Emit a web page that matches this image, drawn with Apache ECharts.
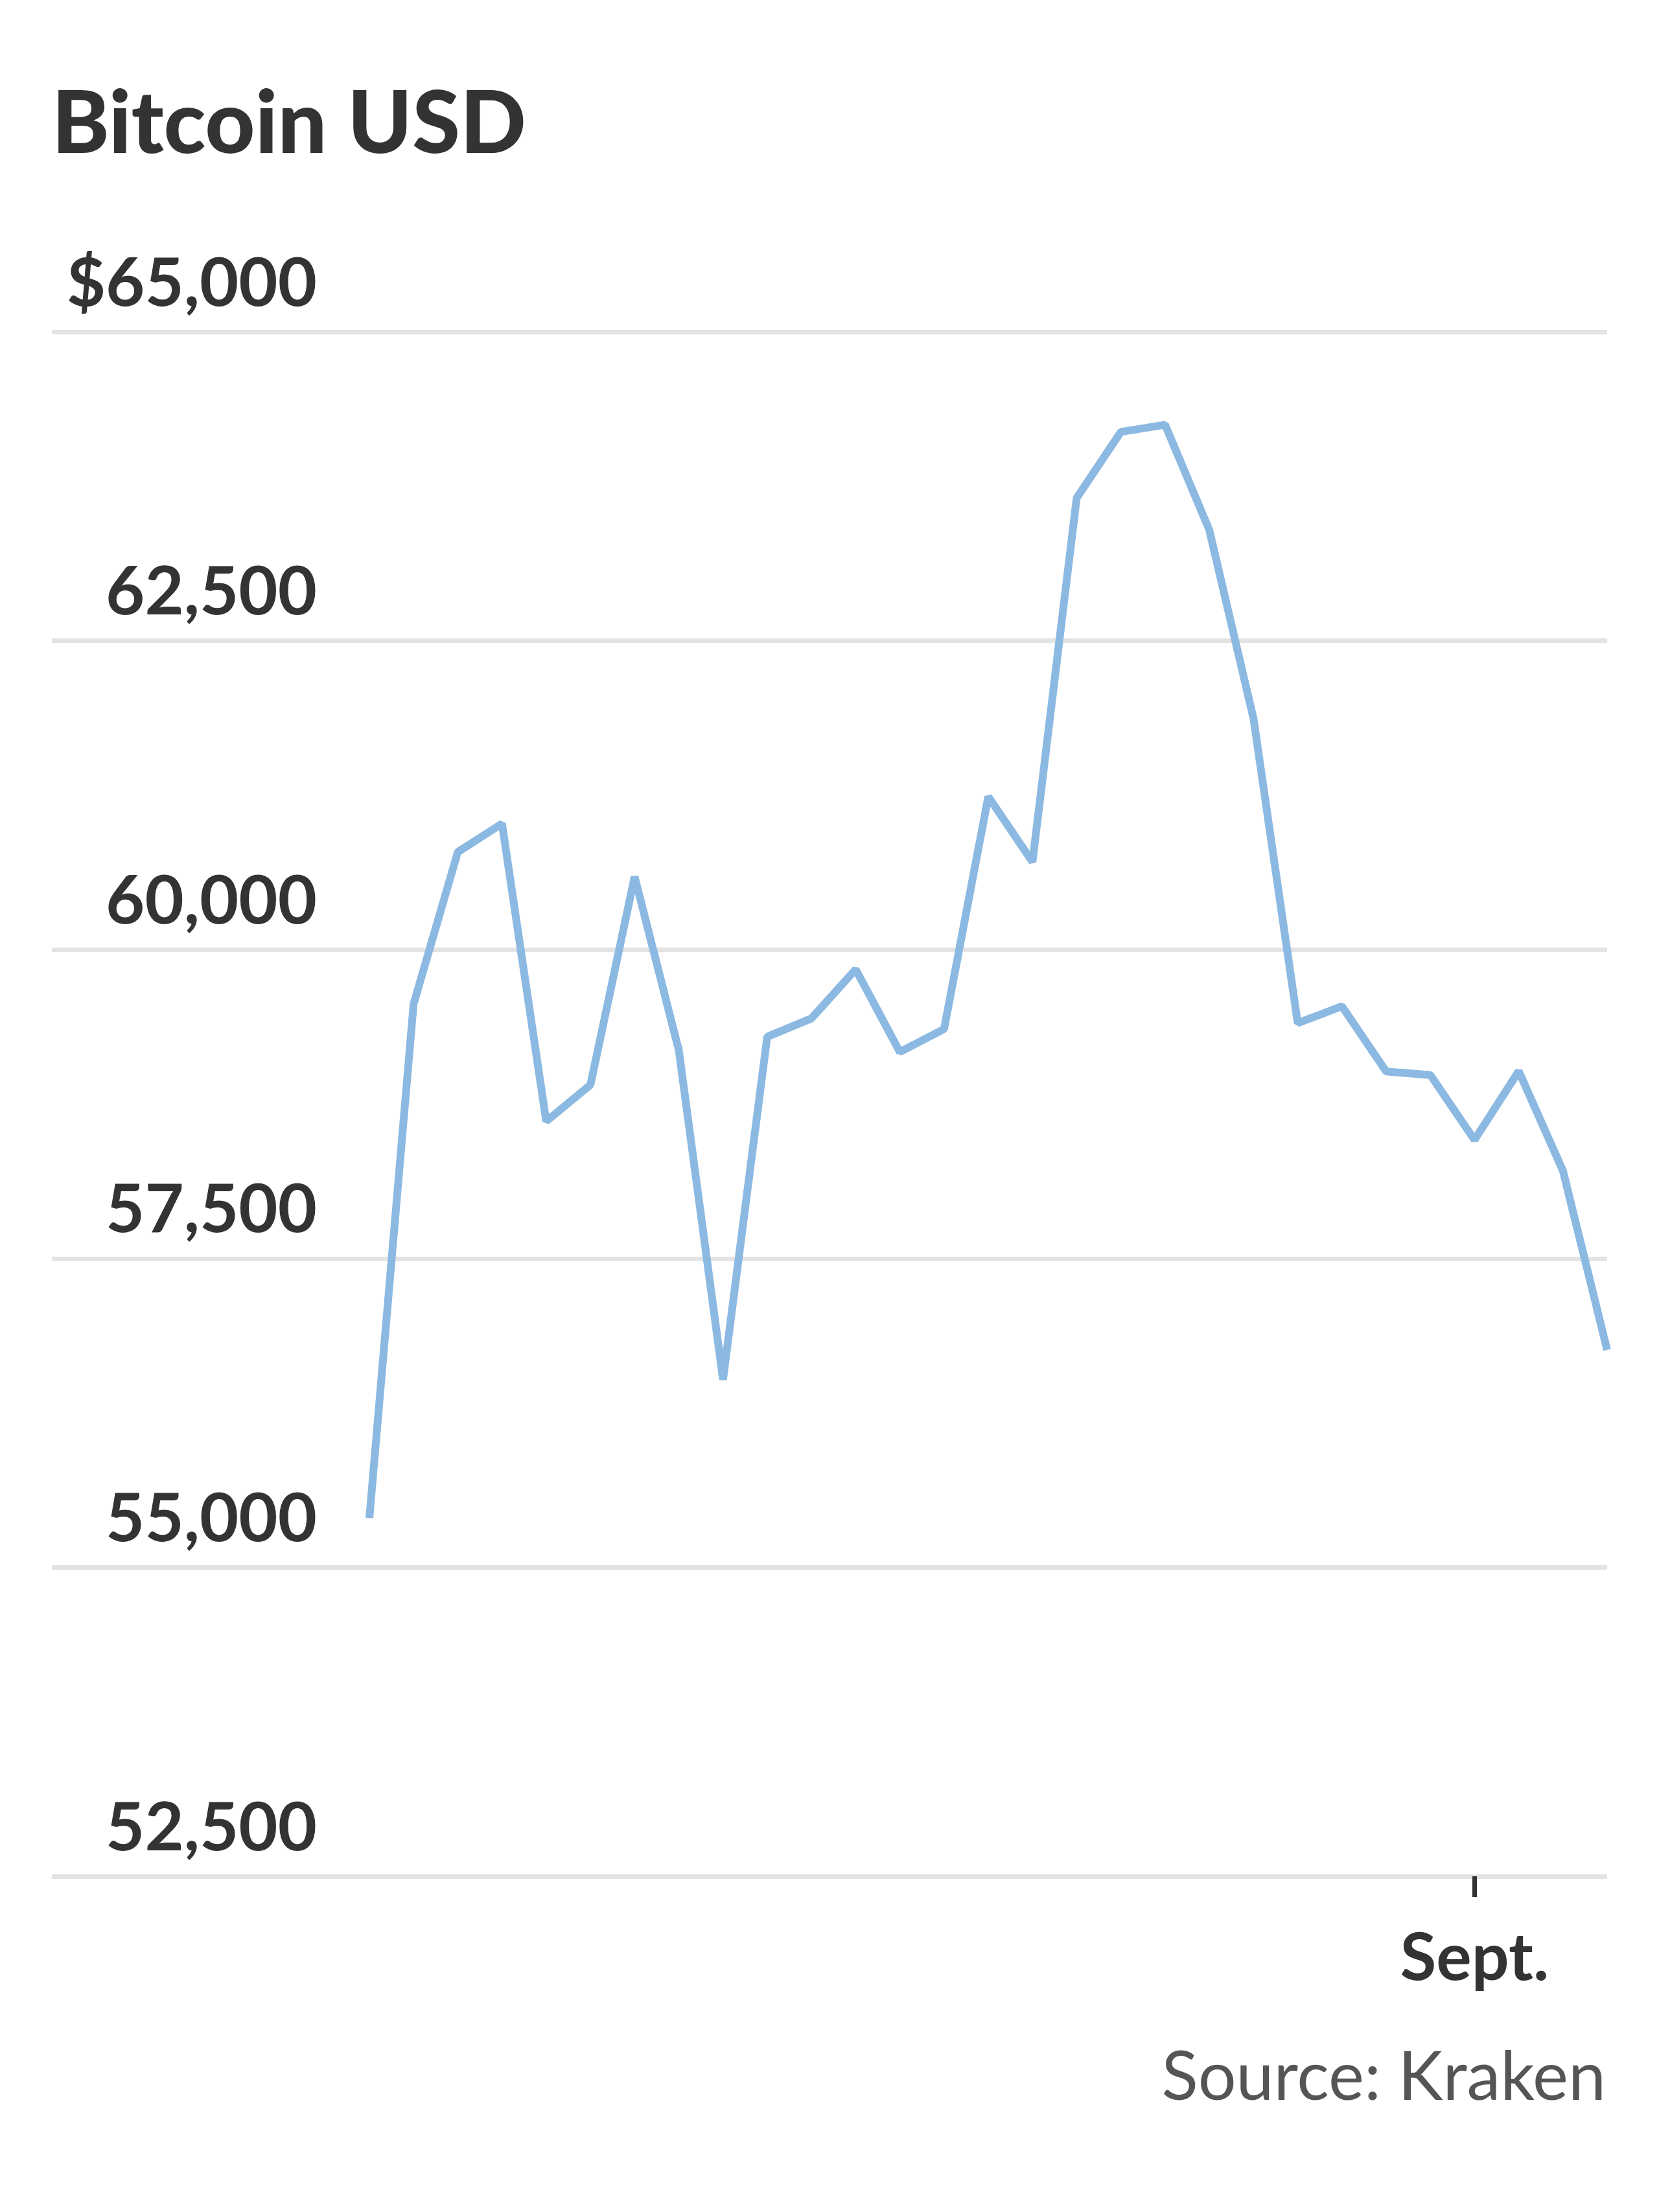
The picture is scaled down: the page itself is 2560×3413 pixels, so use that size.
<!DOCTYPE html>
<html>
<head>
<meta charset="utf-8">
<script src="https://cdn.jsdelivr.net/npm/echarts@6/dist/echarts.min.js"></script>
<style>
  html, body { margin: 0; padding: 0; background: #ffffff; }
  #chart { width: 2560px; height: 3413px; }
</style>
</head>
<body>
<div id="chart"></div>
<script>
// ---- Data ----
const dates = [
  'Aug. 7', 'Aug. 8', 'Aug. 9', 'Aug. 10', 'Aug. 11', 'Aug. 12', 'Aug. 13',
  'Aug. 14', 'Aug. 15', 'Aug. 16', 'Aug. 17', 'Aug. 18', 'Aug. 19', 'Aug. 20',
  'Aug. 21', 'Aug. 22', 'Aug. 23', 'Aug. 24', 'Aug. 25', 'Aug. 26', 'Aug. 27',
  'Aug. 28', 'Aug. 29', 'Aug. 30', 'Aug. 31', 'Sept. 1', 'Sept. 2', 'Sept. 3',
  'Sept. 4'
];
const prices = [
  55400, 59560, 60790, 61020, 58610, 58905, 60590,
  59185, 56520, 59295, 59443, 59840, 59172, 59357,
  61238, 60710, 63655, 64190, 64248, 63396, 61870,
  59405, 59541, 59014, 58985, 58460, 59016, 58210,
  56760
];
const yTickValues = [52500, 55000, 57500, 60000, 62500, 65000];
const xTickLabel = 'Sept. 1';
const titleText = 'Bitcoin USD';
const sourceText = 'Source: Kraken';

// ---- Chart ----
const yMin = Math.min(...yTickValues);
const yMax = Math.max(...yTickValues);
const yStep = yTickValues[1] - yTickValues[0];
const sepIndex = dates.indexOf(xTickLabel);
const fmt = v => v.toLocaleString('en-US');

const chart = echarts.init(document.getElementById('chart'));
const FONT = 'Lato';

chart.setOption({
  animation: false,
  backgroundColor: '#ffffff',
  title: [
    {
      text: titleText,
      left: 80,
      top: 126,
      padding: 0,
      textStyle: { fontFamily: FONT, fontWeight: 900, fontSize: 134, lineHeight: 134, color: '#333333' }
    },
    {
      text: sourceText,
      right: 82,
      top: 3154,
      padding: 0,
      textStyle: { fontFamily: FONT, fontWeight: 'normal', fontSize: 104, lineHeight: 104, color: '#555555' }
    }
  ],
  grid: [
    { left: 80, right: 80, top: 512, bottom: 518 },
    { left: 570, right: 80, top: 512, bottom: 518 }
  ],
  xAxis: [
    { gridIndex: 0, type: 'value', min: 0, max: 1, show: false },
    {
      gridIndex: 1,
      type: 'category',
      data: dates,
      boundaryGap: false,
      axisLine: { show: false },
      axisTick: {
        show: true,
        interval: (i) => i === sepIndex,
        length: 32,
        lineStyle: { color: '#333333', width: 7 }
      },
      axisLabel: {
        interval: (i) => i === sepIndex,
        formatter: (v) => v.split(' ')[0],
        margin: 76,
        fontFamily: FONT,
        fontWeight: 'bold',
        fontSize: 102,
        lineHeight: 102,
        color: '#333333'
      },
      splitLine: { show: false }
    }
  ],
  yAxis: [
    {
      gridIndex: 0,
      type: 'value',
      min: yMin,
      max: yMax,
      interval: yStep,
      axisLine: { show: false },
      axisTick: { show: false },
      splitLine: { show: true, lineStyle: { color: '#e3e3e3', width: 7 } },
      axisLabel: {
        inside: true,
        margin: 409,
        align: 'right',
        verticalAlign: 'bottom',
        lineHeight: 148,
        fontFamily: FONT,
        fontWeight: 'bold',
        fontSize: 104,
        color: '#333333',
        formatter: (v) => (v === yMax ? '$' : '') + fmt(v)
      }
    },
    { gridIndex: 1, type: 'value', min: yMin, max: yMax, interval: yStep, show: false, splitLine: { show: false } }
  ],
  series: [
    {
      type: 'line',
      xAxisIndex: 1,
      yAxisIndex: 1,
      data: prices,
      showSymbol: false,
      symbol: 'none',
      lineStyle: { color: '#8cb9e2', width: 12 },
      clip: true
    }
  ]
});
</script>
</body>
</html>
